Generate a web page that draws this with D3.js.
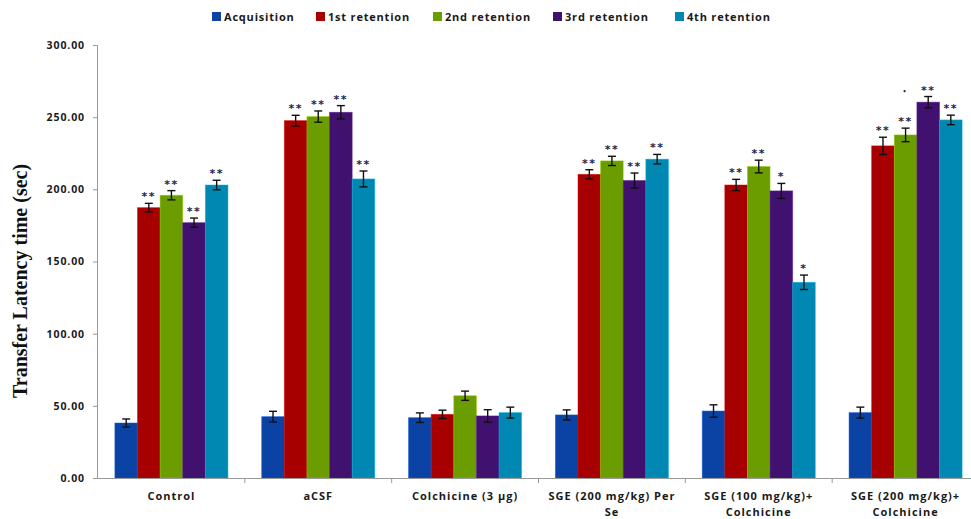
<!DOCTYPE html>
<html>
<head>
<meta charset="utf-8">
<script src="https://cdn.jsdelivr.net/npm/d3@7/dist/d3.min.js"></script>
<style>
  html, body { margin: 0; padding: 0; background: #fff; }
  svg { display: block; }
  .tick text { font-family: "Open Sans", "Liberation Sans", sans-serif; font-weight: 700; fill: #1a1a1a; }
</style>
</head>
<body>
<svg id="chart" width="971" height="519"></svg>
<script>
// Treatment groups (x-axis categories), each label split into lines
const groups = ["Control", "aCSF", "Colchicine (3 μg)", "SGE (200 mg/kg) Per Se", "SGE (100 mg/kg)+ Colchicine", "SGE (200 mg/kg)+ Colchicine"];
const groupLines = [["Control"], ["aCSF"], ["Colchicine (3 μg)"], ["SGE (200 mg/kg) Per", "Se"], ["SGE (100 mg/kg)+", "Colchicine"], ["SGE (200 mg/kg)+", "Colchicine"]];

// Trial series
const series = ["Acquisition", "1st retention", "2nd retention", "3rd retention", "4th retention"];
const colors = ["#0b43a4", "#a60000", "#6b9c00", "#41116f", "#0088b2"];

// Mean transfer latency (sec), one array per series, ordered by group
const acquisition = [38.1, 42.5, 41.8, 43.7, 46.4, 45.3];
const retention1  = [187.3, 247.6, 44.1, 210.4, 203.0, 230.1];
const retention2  = [195.9, 250.4, 57.0, 219.7, 215.8, 237.7];
const retention3  = [176.9, 253.4, 43.0, 206.1, 198.9, 260.4];
const retention4  = [203.0, 207.2, 45.3, 220.9, 135.6, 248.1];

// SEM for each bar
const semAcq = [2.8, 3.7, 3.3, 3.5, 4.3, 3.8];
const semR1  = [3.0, 3.7, 2.9, 3.2, 3.9, 6.0];
const semR2  = [3.2, 3.9, 3.2, 3.2, 4.4, 4.7];
const semR3  = [3.2, 4.6, 4.3, 5.2, 5.2, 3.9];
const semR4  = [3.3, 5.5, 3.8, 3.3, 5.0, 3.3];

// Significance marks above each bar
const sigAcq = ["", "", "", "", "", ""];
const sigR1  = ["**", "**", "", "**", "**", "**"];
const sigR2  = ["**", "**", "", "**", "**", "**"];
const sigR3  = ["**", "**", "", "**", "*", "**"];
const sigR4  = ["**", "**", "", "**", "*", "**"];

const yTicks = [0, 50, 100, 150, 200, 250, 300];

const values = [acquisition, retention1, retention2, retention3, retention4];
const sems = [semAcq, semR1, semR2, semR3, semR4];
const sigs = [sigAcq, sigR1, sigR2, sigR3, sigR4];

const rows = [];
groups.forEach((g, gi) => {
  series.forEach((s, si) => {
    rows.push({ group: g, gi, series: s, si, value: values[si][gi], sem: sems[si][gi], sig: sigs[si][gi] });
  });
});

const svg = d3.select("#chart");
const plotL = 97, plotR = 979, plotT = 45, plotB = 478;

const x = d3.scaleBand().domain(groups).range([plotL + 1, plotR]).paddingInner(0.23).paddingOuter(0.115);
const xs = d3.scaleBand().domain(series).range([0, x.bandwidth()]).padding(0);
const y = d3.scaleLinear().domain([0, 300]).range([plotB, plotT]);

// Y axis
const yAxis = svg.append("g")
  .attr("transform", `translate(${plotL},0)`)
  .call(d3.axisLeft(y).tickValues(yTicks).tickFormat(d3.format(".2f")).tickSize(4).tickPadding(8));
yAxis.select(".domain").attr("stroke", "#999").attr("stroke-width", 1);
yAxis.selectAll(".tick line").attr("stroke", "#999");
yAxis.selectAll(".tick text").attr("font-size", 10.5).attr("letter-spacing", 0.9);

// Bars
svg.append("g").selectAll("rect")
  .data(rows)
  .join("rect")
  .attr("x", d => x(d.group) + xs(d.series))
  .attr("y", d => y(d.value))
  .attr("width", xs.bandwidth())
  .attr("height", d => y(0) - y(d.value))
  .attr("fill", d => colors[d.si])
  .attr("stroke", d => d3.color(colors[d.si]).brighter(0.8))
  .attr("stroke-width", 0.8)
  .attr("stroke-opacity", 0.6);

// Error bars
const eb = svg.append("g").attr("stroke", "#111").attr("stroke-width", 1.4);
rows.forEach(d => {
  const cx = x(d.group) + xs(d.series) + xs.bandwidth() / 2;
  const y1 = y(d.value + d.sem), y2 = y(d.value - d.sem);
  eb.append("line").attr("x1", cx).attr("x2", cx).attr("y1", y1).attr("y2", y2);
  eb.append("line").attr("x1", cx - 4).attr("x2", cx + 4).attr("y1", y1).attr("y2", y1);
  eb.append("line").attr("x1", cx - 4).attr("x2", cx + 4).attr("y1", y2).attr("y2", y2);
});

// Significance stars
svg.append("g").selectAll("text")
  .data(rows.filter(d => d.sig))
  .join("text")
  .attr("x", d => x(d.group) + xs(d.series) + xs.bandwidth() / 2)
  .attr("y", d => y(d.value + d.sem) - 3)
  .attr("text-anchor", "middle")
  .attr("font-family", "DejaVu Sans, sans-serif")
  .attr("font-weight", 700)
  .attr("font-size", 11)
  .attr("letter-spacing", 1.5)
  .attr("fill", "#1c2448")
  .text(d => d.sig);

// Stray dot above the 2nd retention bar of the last group
const lastG = groups[5];
svg.append("circle")
  .attr("cx", x(lastG) + xs(series[2]) + xs.bandwidth() / 2 - 1)
  .attr("cy", y(retention2[5] + semR2[5]) - 37)
  .attr("r", 1.1)
  .attr("fill", "#1c2448");

// X axis line and group separators
const xAxisG = svg.append("g");
xAxisG.append("line")
  .attr("x1", plotL).attr("x2", plotR).attr("y1", plotB + 0.5).attr("y2", plotB + 0.5)
  .attr("stroke", "#999").attr("stroke-width", 1);
const bounds = groups.slice(1).map(g => x(g) - x.step() * x.paddingInner() / 2);
xAxisG.selectAll(".sep")
  .data(bounds)
  .join("line")
  .attr("x1", d => d).attr("x2", d => d)
  .attr("y1", plotB).attr("y2", plotB + 5)
  .attr("stroke", "#999");

// Group labels
const lab = svg.append("g")
  .attr("font-family", "Open Sans, Liberation Sans, sans-serif")
  .attr("font-weight", 700)
  .attr("font-size", 11)
  .attr("letter-spacing", 1)
  .attr("fill", "#1a1a1a")
  .attr("text-anchor", "middle");
groups.forEach((g, gi) => {
  const t = lab.append("text")
    .attr("x", x(g) + x.bandwidth() / 2)
    .attr("y", 500);
  groupLines[gi].forEach((line, li) => {
    t.append("tspan").attr("x", x(g) + x.bandwidth() / 2).attr("dy", li === 0 ? 0 : 16).text(line);
  });
});

// Y axis title
svg.append("text")
  .attr("transform", "translate(27,281) rotate(-90)")
  .attr("text-anchor", "middle")
  .attr("font-family", "Liberation Serif, Times New Roman, serif")
  .attr("font-weight", 700)
  .attr("font-size", 20)
  .attr("fill", "#111")
  .text("Transfer Latency time (sec)");

// Legend
const legendX = [212, 316, 433, 553, 675];
const legend = svg.append("g")
  .attr("font-family", "Open Sans, Liberation Sans, sans-serif")
  .attr("font-weight", 700)
  .attr("font-size", 11)
  .attr("letter-spacing", 0.8)
  .attr("fill", "#1a1a1a");
series.forEach((s, si) => {
  legend.append("rect")
    .attr("x", legendX[si]).attr("y", 12).attr("width", 9).attr("height", 9)
    .attr("fill", colors[si]);
  legend.append("text")
    .attr("x", legendX[si] + 12).attr("y", 21)
    .text(s);
});
</script>
</body>
</html>
